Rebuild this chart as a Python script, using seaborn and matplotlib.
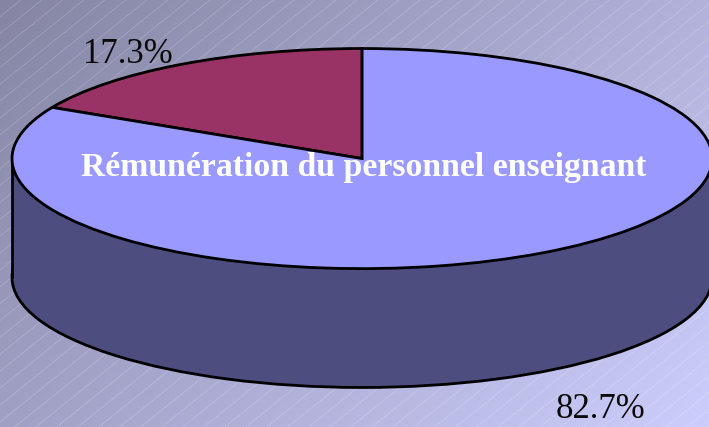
import numpy as np
import matplotlib
matplotlib.use('Agg')
import matplotlib.pyplot as plt
import matplotlib.colors as mcolors
import seaborn as sns

# Data
labels = ['17.3%', '82.7%']
shares = [17.3, 82.7]
slice_colors = ['#993366', '#9999ff']
side_color = '#4d4d80'
title_text = 'Rémunération du personnel enseignant'

sns.set_theme(style='white')
plt.rcParams['font.family'] = ['Liberation Serif', 'DejaVu Serif']

fig = plt.figure(figsize=(7.092, 4.272), dpi=100)

# Background gradient with thin diagonal stripes
bg = fig.add_axes([0, 0, 1, 1])
cmap = mcolors.LinearSegmentedColormap.from_list('bg', ['#8585a3', '#cdcdfd'])
xx, yy = np.meshgrid(np.linspace(0, 1, 200), np.linspace(0, 1, 120))
bg.imshow(xx * 0.62 + yy * 0.38, cmap=cmap, extent=(0, 709, 427, 0), aspect='auto', vmin=0, vmax=1)
for start in range(0, 1300, 21):
    bg.plot([start, start - 560], [0, 450], color='white', lw=0.4, alpha=0.3)
bg.set_xlim(0, 709)
bg.set_ylim(427, 0)
bg.axis('off')

# Pie axes: the ellipse comes from the unequal axis scales
ax = fig.add_axes([0, 0, 1, 1])
ax.patch.set_alpha(0)
depth = 1.08
ax.pie([1], colors=[side_color], center=(0, -depth), radius=1,
       wedgeprops={'edgecolor': 'black', 'linewidth': 2})
side_x = np.linspace(-1, 1, 100)
ax.fill_between(side_x, -depth, 0, color=side_color, lw=0, zorder=1.5)
ax.plot([-1, -1], [-depth, 0], color='black', lw=2, zorder=1.6)
ax.plot([1, 1], [-depth, 0], color='black', lw=2, zorder=1.6)
wedges, _ = ax.pie(shares, colors=slice_colors, startangle=90, radius=1,
                   wedgeprops={'edgecolor': 'black', 'linewidth': 2, 'zorder': 2})

ax.set_aspect('auto')
ax.set_xlim(-362 / 350, 347 / 350)
ax.set_ylim(-268.3 / 110, 158.7 / 110)
ax.axis('off')
sns.despine(ax=ax, left=True, bottom=True)

ax.text(-0.669, 0.945, labels[0], fontsize=25, color='#0a0a0a', ha='center', va='center', zorder=5)
ax.text(0.68, -2.28, labels[1], fontsize=25, color='#0a0a0a', ha='center', va='center', zorder=5)
ax.text(0.005, -0.08, title_text, fontsize=24.3, fontweight='bold', color='white',
        ha='center', va='center', zorder=5)

fig.savefig('out.png', dpi=100)
